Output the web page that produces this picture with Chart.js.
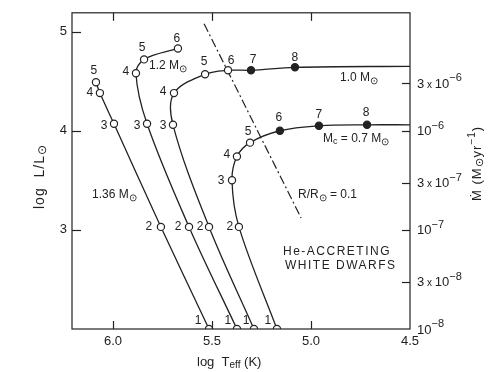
<!DOCTYPE html>
<html>
<head>
<meta charset="utf-8">
<script src="https://cdn.jsdelivr.net/npm/chart.js@4.4.1/dist/chart.umd.min.js"></script>
<style>
  body { margin: 0; background: #fff; }
  #wrap { width: 496px; height: 372px; }
</style>
</head>
<body>
<div id="wrap"><canvas id="chart"></canvas></div>
<script>
'use strict';

// tracks, point 1 (bottom) upward: log Teff, log L
const t136 = [5.515, 5.758, 5.995, 6.066, 6.086];
const l136 = [2.00, 3.03, 4.07, 4.38, 4.49];

const t12 = [5.374, 5.616, 5.828, 5.884, 5.843, 5.672];
const l12 = [2.00, 3.03, 4.07, 4.58, 4.72, 4.83];

const t10 = [5.288, 5.515, 5.697, 5.692, 5.535, 5.419, 5.303, 5.081];
const l10 = [2.00, 3.03, 4.06, 4.38, 4.57, 4.61, 4.61, 4.64];
const filled10 = [0, 0, 0, 0, 0, 0, 1, 1];

const t07 = [5.172, 5.364, 5.399, 5.374, 5.308, 5.157, 4.960, 4.717];
const l07 = [2.00, 3.03, 3.50, 3.74, 3.88, 4.00, 4.05, 4.06];
const filled07 = [0, 0, 0, 0, 0, 1, 1, 1];

// where the 1.0 and 0.7 lines leave the right edge
const tail10 = [4.5, 4.65];
const tail07 = [4.5, 4.06];

// R/R_sun = 0.1 line
const radT = [5.54, 5.05];
const radL = [5.08, 3.12];

const xTicks = [6.0, 5.5, 5.0, 4.5];
const yTicks = [3, 4, 5];
const mdotTicks = [1e-8, 3e-8, 1e-7, 3e-7, 1e-6, 3e-6];
const mdotMant = ['', '3', '', '3', '', '3'];
const mdotExp = ['−8', '−8', '−7', '−7', '−6', '−6'];

const INK = '#222';
const FONT = '"Liberation Sans", Arial, sans-serif';

function pts(ts, ls) {
  return ts.map((t, i) => ({ x: t, y: ls[i] }));
}

function lineSet(data) {
  return {
    type: 'line', data: data, showLine: true, borderColor: INK, borderWidth: 1.3,
    pointRadius: 0, tension: 0.35, fill: false, order: 2
  };
}

function markSet(data, filled) {
  return {
    type: 'scatter', data: data, showLine: false,
    pointRadius: 3.6, pointBorderWidth: 1.2, pointBorderColor: INK,
    pointBackgroundColor: data.map((p, i) => (filled && filled[i]) ? INK : '#fff'),
    order: 1
  };
}

const tracks = [
  { t: t136, l: l136, filled: null },
  { t: t12, l: l12, filled: null },
  { t: t10, l: l10, filled: filled10 },
  { t: t07, l: l07, filled: filled07 }
];

// number label offsets (px) from each marker
const numOffsets = [
  [[-11, -8], [-12, 0], [-10, 2], [-10, 0], [-2, -11]],
  [[-9, -8], [-11, 0], [-10, 2], [-10, -2], [-2, -12], [-1, -10]],
  [[-8, -8], [-9, 0], [-10, 1], [-11, -1], [-1, -13], [3, -10], [2, -11], [0, -10]],
  [[-9, -8], [-9, 0], [-11, 0], [-10, -2], [-2, -11], [-1, -13], [0, -11], [-1, -12]]
];

const datasets = [
  lineSet(pts(t136, l136)),
  lineSet(pts(t12, l12)),
  lineSet(pts(t10, l10).concat([{ x: tail10[0], y: tail10[1] }])),
  lineSet(pts(t07, l07).concat([{ x: tail07[0], y: tail07[1] }])),
  {
    type: 'line', data: pts(radT, radL), borderColor: INK, borderWidth: 1.2,
    borderDash: [9, 3, 2, 3], pointRadius: 0, tension: 0, order: 3
  }
];
tracks.forEach(tr => datasets.push(markSet(pts(tr.t, tr.l), tr.filled)));

// draw a run of text pieces: [text, size, dy]
function rich(ctx, x, y, parts) {
  let cx = x;
  parts.forEach(p => {
    ctx.font = p[1] + 'px ' + FONT;
    ctx.fillText(p[0], cx, y + (p[2] || 0));
    cx += ctx.measureText(p[0]).width;
  });
}

const sun = (s) => ['⊙', s || 10, 3];

const decor = {
  id: 'decor',
  afterDatasetsDraw(chart) {
    const { ctx, chartArea: a, scales } = chart;
    ctx.save();
    ctx.strokeStyle = INK;
    ctx.lineWidth = 1.2;
    ctx.strokeRect(a.left, a.top, a.right - a.left, a.bottom - a.top);

    const seg = (x1, y1, x2, y2) => {
      ctx.beginPath(); ctx.moveTo(x1, y1); ctx.lineTo(x2, y2); ctx.stroke();
    };
    xTicks.slice(0, 3).forEach(v => {
      const px = Math.round(scales.x.getPixelForValue(v)) + 0.5;
      seg(px, a.bottom, px, a.bottom - 8);
      seg(px, a.top, px, a.top + 8);
    });
    yTicks.forEach(v => {
      const py = Math.round(scales.y.getPixelForValue(v)) + 0.5;
      seg(a.left, py, a.left + 9, py);
    });
    mdotTicks.slice(1).forEach(v => {
      const py = Math.round(scales.y2.getPixelForValue(v)) + 0.5;
      seg(a.right, py, a.right - 8, py);
    });

    ctx.fillStyle = INK;
    ctx.textBaseline = 'middle';

    // right axis labels with raised exponents
    ctx.textAlign = 'left';
    mdotTicks.forEach((v, i) => {
      const py = scales.y2.getPixelForValue(v);
      const parts = [];
      if (mdotMant[i]) parts.push([mdotMant[i], 13], [' x ', 10, 1]);
      parts.push(['10', 13], [mdotExp[i], 11, -6]);
      rich(ctx, a.right + 7, py + 1, parts);
    });

    ctx.textAlign = 'center';
    ctx.font = '12px ' + FONT;
    tracks.forEach((tr, k) => {
      tr.t.forEach((t, i) => {
        const px = scales.x.getPixelForValue(t);
        const py = scales.y.getPixelForValue(tr.l[i]);
        const o = numOffsets[k][i];
        ctx.fillText(String(i + 1), px + o[0], py + o[1]);
      });
    });

    ctx.textAlign = 'left';
    rich(ctx, 92, 195, [['1.36 M', 12], sun()]);
    rich(ctx, 149, 66, [['1.2 M', 12], sun()]);
    rich(ctx, 340, 78, [['1.0 M', 12], sun()]);
    rich(ctx, 323, 139, [['M', 12], ['c', 9, 3], [' = 0.7 M', 12], sun()]);
    rich(ctx, 298, 195, [['R/R', 12], sun(), [' = 0.1', 12]]);
    ctx.letterSpacing = '1.5px';
    rich(ctx, 283, 252, [['He-ACCRETING', 12]]);
    rich(ctx, 285, 266, [['WHITE DWARFS', 12]]);
    ctx.letterSpacing = '0px';

    // axis titles
    rich(ctx, 197, 362, [['log  T', 13], ['eff', 10, 3], [' (K)', 13]]);

    ctx.save();
    ctx.translate(40, 209);
    ctx.rotate(-Math.PI / 2);
    ctx.letterSpacing = '1px';
    rich(ctx, 0, 0, [['log  L/L', 14], sun(12)]);
    ctx.restore();

    ctx.save();
    ctx.translate(477, 201);
    ctx.rotate(-Math.PI / 2);
    ctx.letterSpacing = '1px';
    rich(ctx, 0, 0, [['Ṁ (M', 13], sun(11), ['yr', 13], ['−1', 10, -5], [')', 13]]);
    ctx.restore();

    ctx.restore();
  }
};

new Chart(document.getElementById('chart'), {
  data: { datasets: datasets },
  options: {
    responsive: true,
    maintainAspectRatio: false,
    animation: false,
    layout: { padding: { top: 10, left: 0, right: 0, bottom: 0 } },
    plugins: { legend: { display: false }, tooltip: { enabled: false } },
    scales: {
      x: {
        type: 'linear', min: 4.5, max: 6.207, reverse: true,
        grid: { display: false, drawTicks: false }, border: { display: false },
        afterBuildTicks: s => { s.ticks = xTicks.map(v => ({ value: v })); },
        afterFit: s => { s.height = 43; },
        ticks: { color: INK, font: { family: FONT, size: 13 }, padding: 5, maxRotation: 0,
          callback: v => v.toFixed(1) }
      },
      y: {
        type: 'linear', position: 'left', min: 2.0, max: 5.19,
        grid: { display: false, drawTicks: false }, border: { display: false },
        afterBuildTicks: s => { s.ticks = yTicks.map(v => ({ value: v })); },
        afterFit: s => { s.width = 72; },
        ticks: { color: INK, font: { family: FONT, size: 13 }, padding: 5,
          callback: v => String(v) }
      },
      y2: {
        type: 'logarithmic', position: 'right', min: 1e-8, max: Math.pow(10, -4.81),
        grid: { display: false, drawTicks: false }, border: { display: false },
        afterBuildTicks: s => { s.ticks = mdotTicks.map(v => ({ value: v })); },
        afterFit: s => { s.width = 86; },
        ticks: { display: false }
      }
    }
  },
  plugins: [decor]
});
</script>
</body>
</html>
